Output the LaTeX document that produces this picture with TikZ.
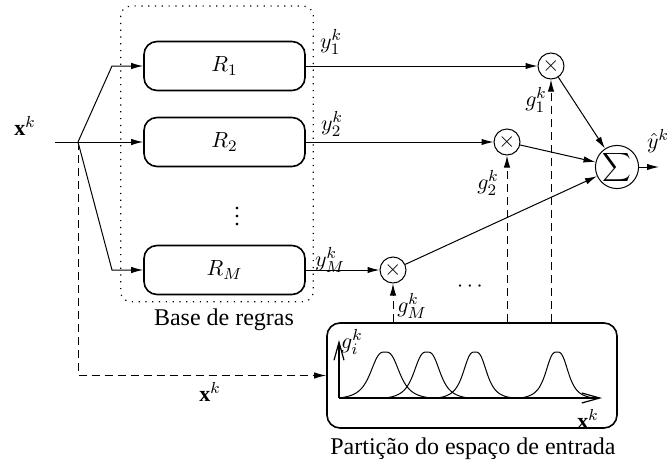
\documentclass[tikz,border=0pt]{standalone}
\usepackage{fontspec}
\setmainfont{Liberation Serif}
\usetikzlibrary{arrows.meta}
\begin{document}
\begin{tikzpicture}[x=0.5pt,y=-0.5pt,
  rulebox/.style={draw, line width=0.8pt, rounded corners=6.5pt, minimum width=80.5pt, minimum height=24.5pt, inner sep=0pt, font=\fontsize{11}{13}\selectfont},
  mul/.style={draw, circle, line width=0.5pt, minimum size=13pt, inner sep=0pt, font=\fontsize{11}{13}\selectfont},
  conn/.style={line width=0.5pt},
  arr/.style={line width=0.5pt, -{Latex[length=6pt,width=3.2pt]}},
  dsh/.style={dash pattern=on 4pt off 2.5pt},
  axisarr/.style={line width=0.6pt, -{Straight Barb[length=9pt,width=5pt]}},
  lbl/.style={inner sep=0pt, font=\fontsize{11}{13}\selectfont},
  txt/.style={inner sep=0pt, font=\fontsize{12}{14}\selectfont},
  bell/.style={line width=0.5pt}]
\useasboundingbox (0,0) rectangle (669,466);

% rule base
\draw[line width=0.6pt, dash pattern=on 0.6pt off 2.8pt, rounded corners=5pt] (120.7,6) rectangle (313.3,301.7);
\node[rulebox] (R1) at (224.5,66) {$R_1$};
\node[rulebox] (R2) at (224.5,142) {$R_2$};
\node[rulebox] (RM) at (224.5,270) {$R_M$};
\node[lbl] (vd) at (237,211) {$\vdots$};
\node[txt] (base) at (224,320) {Base de regras};

% input
\node[lbl] (xin) at (25,126) {$\mathbf{x}^k$};
\coordinate (in) at (55,142);
\coordinate (B) at (78,142);
\coordinate (t1) at (112,66);
\coordinate (tM) at (112,270);
\draw[conn] (in) -- (B);
\draw[arr] (B) -- (t1) -- (R1.west);
\draw[arr] (B) -- (R2.west);
\draw[arr] (B) -- (tM) -- (RM.west);

% multipliers and sum
\node[mul] (m1) at (551,66) {$\times$};
\node[mul] (m2) at (507,142) {$\times$};
\node[mul] (mM) at (393,270) {$\times$};
\node[mul, minimum size=21pt] (S) at (617,167) {$\displaystyle\sum$};
\coordinate (out) at (659,167);

\draw[arr] (R1.east) -- (m1);
\draw[arr] (R2.east) -- (m2);
\draw[arr] (RM.east) -- (mM);
\draw[arr] (m1) -- (S);
\draw[arr] (m2) -- (S);
\draw[arr] (mM) -- (S);
\draw[arr] (S) -- (out);

\node[lbl] (y1) at (331,42) {$y_1^k$};
\node[lbl] (y2) at (332,124) {$y_2^k$};
\node[lbl] (yM) at (330,260) {$y_M^k$};
\node[lbl] (yh) at (658,141) {$\hat{y}^k$};
\node[lbl] (g1) at (536,100) {$g_1^k$};
\node[lbl] (g2) at (488,183) {$g_2^k$};
\node[lbl] (gM) at (412,306) {$g_M^k$};
\node[lbl] (dots) at (470,287) {$\cdots$};

% partition box
\node[draw, line width=0.8pt, rounded corners=6.5pt, minimum width=145pt, minimum height=52.5pt, inner sep=0pt] (P) at (472,375.5) {};
\node[txt] (ptxt) at (473,449) {Partição do espaço de entrada};

\coordinate (c) at (B |- P.west);
\draw[arr, dsh] (B) -- (c) -- (P.west);
\node[lbl] (xb) at (210,392) {$\mathbf{x}^k$};

\draw[arr, dsh] (P.north -| m1) -- (m1.south);
\draw[arr, dsh] (P.north -| m2) -- (m2.south);
\draw[arr, dsh] (P.north -| mM) -- (mM.south);

% axes
\coordinate (O) at (339,398);
\coordinate (Oy) at (339,340);
\coordinate (Ox) at (602,398);
\draw[axisarr] (O) -- (Oy);
\draw[axisarr] (O) -- (Ox);
\node[lbl] (gi) at (352,342) {$g_i^k$};
\node[lbl] (xp) at (588,419) {$\mathbf{x}^k$};

\foreach \c/\l/\r/\a in {385/339/430/16, 427/385/465/14.5, 475/437/512/13, 557/520/590/12.5}{
  \pgfmathsetmacro{\ez}{1/(1+pow(max(\c-\l,\r-\c)/\a,3))}
  \draw[bell] plot[domain=\l:\r, samples=80, smooth] (\x,{398-46*max(0,(1/(1+pow(abs(\x-\c)/\a,3))-\ez)/(1-\ez))});
}
\end{tikzpicture}
\end{document}
